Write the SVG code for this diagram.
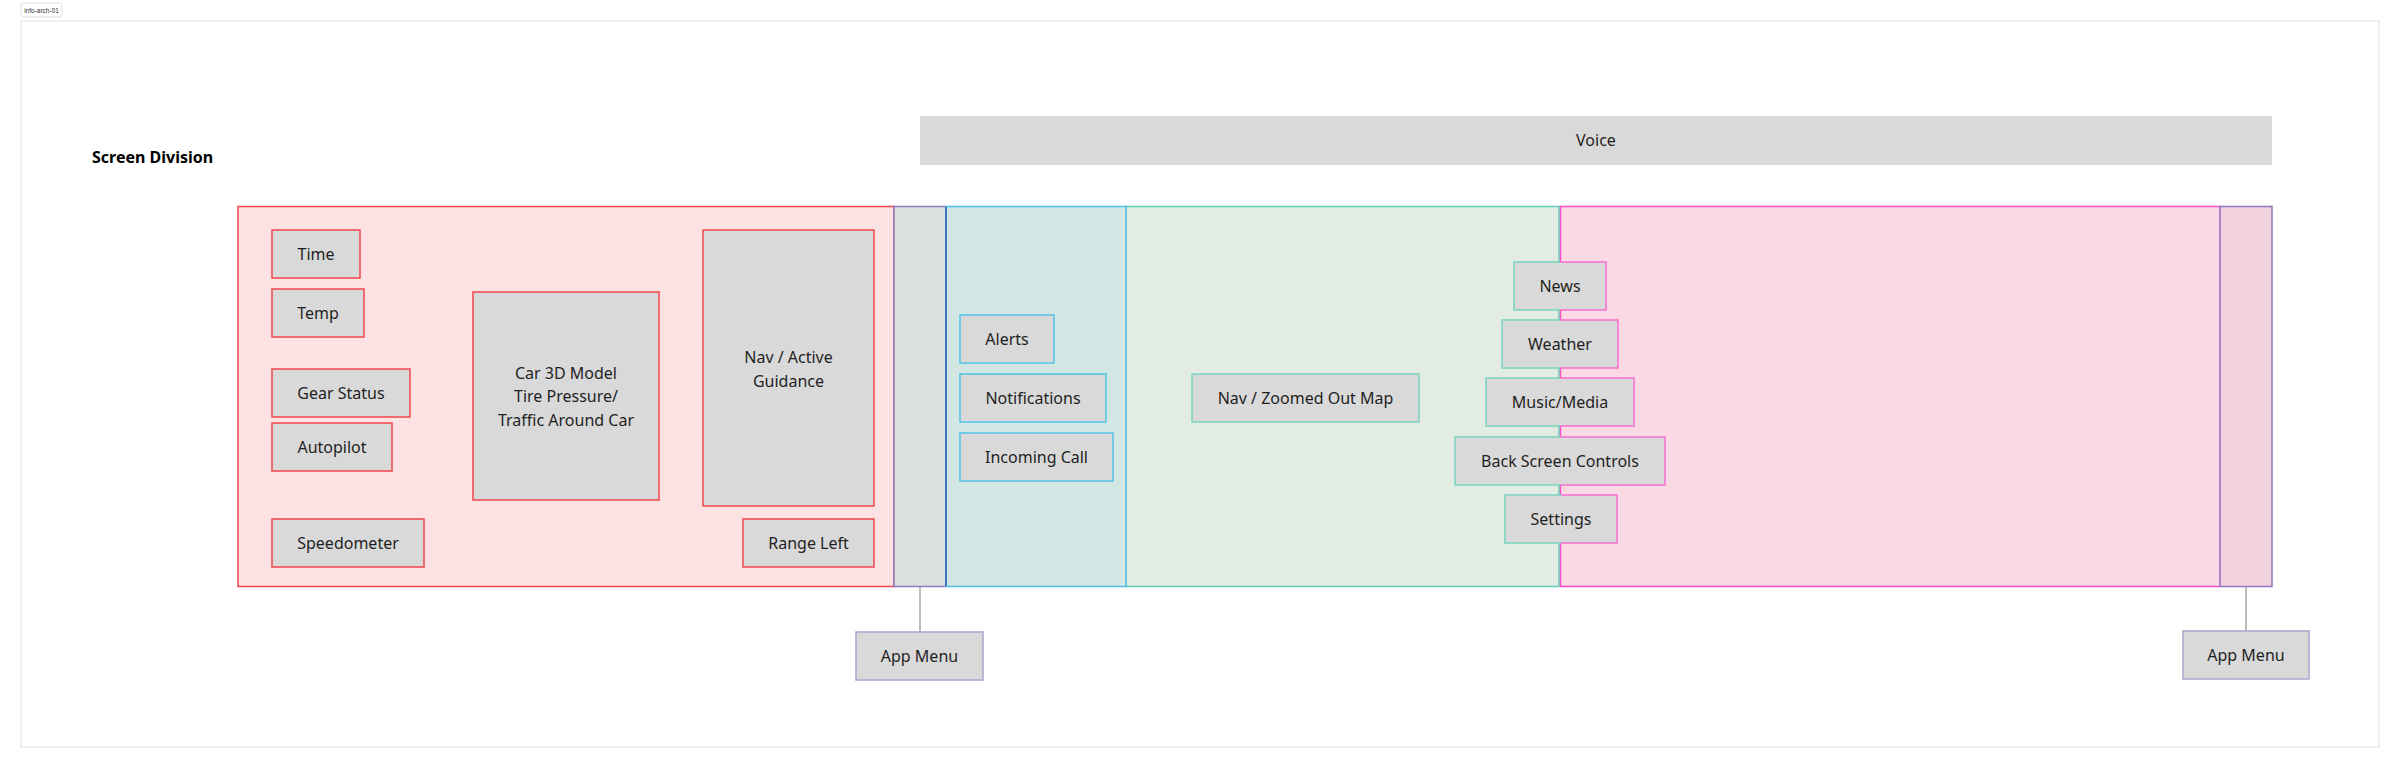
<svg xmlns="http://www.w3.org/2000/svg" width="2400" height="769" viewBox="0 0 2400 769">
<defs>
<style>
text{font-family:"Noto Sans","Open Sans","DejaVu Sans",sans-serif;font-size:16px;fill:#1f1f1f;text-anchor:middle}
.box{fill:#d9d9d9;stroke-width:1.5}
.red{stroke:#f0474c}
.blu{stroke:#52c3e6}
.tea{stroke:#79d3c1}
.pur{stroke:#b0a3cc}
.mix{stroke:url(#tp)}
.conn{stroke:#8f8f8f;stroke-width:1.2;fill:none}
</style>
<linearGradient id="tp" x1="0" y1="0" x2="1" y2="0">
<stop offset="0.5" stop-color="#79d3c1"/>
<stop offset="0.5" stop-color="#f56fd0"/>
</linearGradient>
</defs>
<rect width="2400" height="769" fill="#ffffff"/>
<g id="frame">
<rect x="21" y="21" width="2358" height="726" fill="#ffffff" stroke="#ebebeb" stroke-width="1.5"/>
<rect x="21" y="3" width="41" height="14" rx="2" fill="#ffffff" stroke="#e0e0e0" stroke-width="1"/>
<text x="41.5" y="12.5" style="font-family:'Liberation Sans',Arial,sans-serif;font-size:6.5px;fill:#333">info-arch-01</text>
</g>
<g id="title"><text x="92" y="163" style="text-anchor:start;font-weight:bold;fill:#000">Screen Division</text></g>
<g id="voice"><rect x="920" y="116" width="1352" height="49" fill="#d9d9d9"/><text x="1596" y="146">Voice</text></g>
<g id="sections">
<rect id="sec-red" x="238" y="206.5" width="656" height="380" fill="#fde2e4" stroke="#f0474c" stroke-width="1.5"/>
<rect id="sec-strip1" x="894" y="206.5" width="52" height="380" fill="#dde1dd" stroke="#8e78be" stroke-width="1.5"/>
<rect id="sec-green" x="1126" y="206.5" width="433" height="380" fill="#e3ece3" stroke="#5ccfb7" stroke-width="1.5"/>
<rect id="sec-blue" x="946" y="206.5" width="180" height="380" fill="#d2e7e3" stroke="#4fc1e9" stroke-width="1.5"/>
<rect id="sec-pink" x="1560.5" y="206.5" width="659.5" height="380" fill="#fbd9e2" stroke="#fb4fc9" stroke-width="1.5"/>
<rect id="sec-strip2" x="2220" y="206.5" width="52" height="380" fill="#f3d2e0" stroke="#8e78be" stroke-width="1.5"/>
<line x1="946" y1="207" x2="946" y2="586" stroke="#3f73c6" stroke-width="2"/>
</g>
<g id="connectors">
<line class="conn" x1="920" y1="587" x2="920" y2="632"/>
<line class="conn" x1="2246" y1="587" x2="2246" y2="631"/>
</g>
<g id="n-time"><rect class="box red" x="272" y="230" width="88" height="48"/><text x="316" y="259.5">Time</text></g>
<g id="n-temp"><rect class="box red" x="272" y="289" width="92" height="48"/><text x="318" y="318.5">Temp</text></g>
<g id="n-gear"><rect class="box red" x="272" y="369" width="138" height="48"/><text x="341" y="398.5">Gear Status</text></g>
<g id="n-autopilot"><rect class="box red" x="272" y="423" width="120" height="48"/><text x="332" y="452.5">Autopilot</text></g>
<g id="n-speedometer"><rect class="box red" x="272" y="519" width="152" height="48"/><text x="348" y="548.5">Speedometer</text></g>
<g id="n-car"><rect class="box red" x="473" y="292" width="186" height="208"/><text x="566" y="378.5">Car 3D Model</text><text x="566" y="402">Tire Pressure/</text><text x="566" y="425.5">Traffic Around Car</text></g>
<g id="n-navactive"><rect class="box red" x="703" y="230" width="171" height="276"/><text x="788.5" y="362.5">Nav / Active</text><text x="788.5" y="386.5">Guidance</text></g>
<g id="n-range"><rect class="box red" x="743" y="519" width="131" height="48"/><text x="808.5" y="548.5">Range Left</text></g>
<g id="n-alerts"><rect class="box blu" x="960" y="315" width="94" height="48"/><text x="1007" y="344.5">Alerts</text></g>
<g id="n-notifications"><rect class="box blu" x="960" y="374" width="146" height="48"/><text x="1033" y="403.5">Notifications</text></g>
<g id="n-call"><rect class="box blu" x="960" y="433" width="153" height="48"/><text x="1036.5" y="462.5">Incoming Call</text></g>
<g id="n-navmap"><rect class="box tea" x="1192" y="374" width="227" height="48"/><text x="1305.5" y="403.5">Nav / Zoomed Out Map</text></g>
<g id="n-news"><rect class="box mix" x="1514" y="262" width="92" height="48"/><text x="1560" y="291.5">News</text></g>
<g id="n-weather"><rect class="box mix" x="1502" y="320" width="116" height="48"/><text x="1560" y="349.5">Weather</text></g>
<g id="n-music"><rect class="box mix" x="1486" y="378" width="148" height="48"/><text x="1560" y="407.5">Music/Media</text></g>
<g id="n-backscreen"><rect class="box mix" x="1455" y="437" width="210" height="48"/><text x="1560" y="466.5">Back Screen Controls</text></g>
<g id="n-settings"><rect class="box mix" x="1505" y="495" width="112" height="48"/><text x="1561" y="524.5">Settings</text></g>
<g id="n-appmenu-left"><rect class="box pur" x="856" y="632" width="127" height="48"/><text x="919.5" y="661.5">App Menu</text></g>
<g id="n-appmenu-right"><rect class="box pur" x="2183" y="631" width="126" height="48"/><text x="2246" y="660.5">App Menu</text></g>
</svg>
